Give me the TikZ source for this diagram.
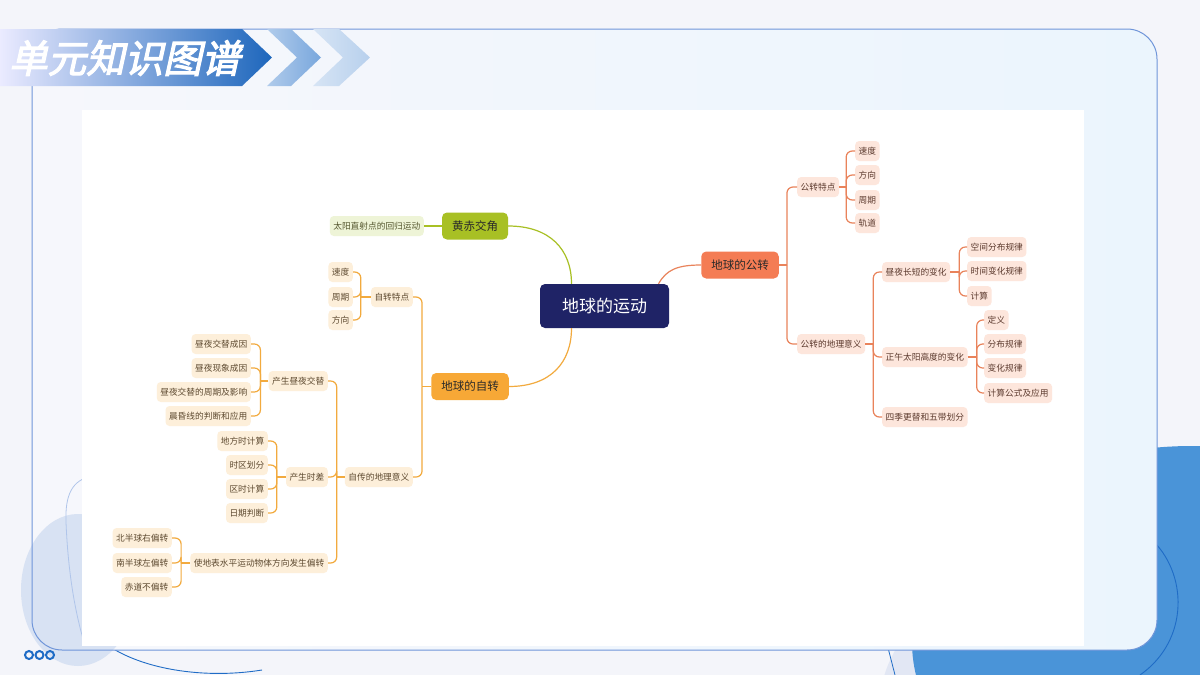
\documentclass[tikz,border=0pt]{standalone}
\usepackage{fontspec}
\newfontfamily\cjk{Noto Sans CJK SC}
\newfontfamily\cjktitle[FakeSlant=0.22,FakeBold=3]{Noto Sans CJK SC}
\usetikzlibrary{calc}
\definecolor{bgc}{HTML}{F4F5FA}
\definecolor{panelL}{HTML}{F6F7FC}
\definecolor{panelR}{HTML}{EBF5FD}
\definecolor{panelB}{HTML}{6F95D9}
\definecolor{blob}{HTML}{D8E2F3}
\definecolor{bigblue}{HTML}{4A94D8}
\definecolor{lavender}{HTML}{E2E7F4}
\definecolor{darkblue}{HTML}{1F6CC6}
\definecolor{navy}{HTML}{1F2366}
\definecolor{greenM}{HTML}{A8C024}
\definecolor{greenL}{HTML}{EEF4D7}
\definecolor{greenT}{HTML}{55572F}
\definecolor{orangeM}{HTML}{F7A836}
\definecolor{orangeLn}{HTML}{F2AA3E}
\definecolor{orangeL}{HTML}{FDEFDA}
\definecolor{orangeT}{HTML}{5E4A30}
\definecolor{coralM}{HTML}{F47C54}
\definecolor{coralLn}{HTML}{E9835B}
\definecolor{coralL}{HTML}{FDE6DC}
\definecolor{coralT}{HTML}{5C3A2E}
\definecolor{darkT}{HTML}{2A2A2A}
\tikzset{
  leaf/.style={rounded corners=4pt, inner xsep=3.5pt, inner ysep=0pt, minimum height=20pt,
    font=\cjk\fontsize{8.7}{10}\selectfont},
  leafO/.style={leaf, fill=orangeL, text=orangeT},
  leafR/.style={leaf, fill=coralL, text=coralT},
  leafG/.style={leaf, fill=greenL, text=greenT},
  branch/.style={rounded corners=5pt, minimum height=27pt, inner xsep=10pt, inner ysep=0pt,
    text=darkT, font=\cjk\fontsize{11.5}{13}\selectfont},
  lo/.style={draw=orangeLn, line width=1.2pt},
  lr/.style={draw=coralLn, line width=1.2pt},
  lg/.style={draw=greenM, line width=1.2pt},
  br/.style={rounded corners=6pt},
  chev/.style={line width=0pt}
}
\begin{document}
\begin{tikzpicture}[x=1pt,y=-1pt]
\useasboundingbox (0,0) rectangle (1200,675);
\fill[bgc] (0,0) rectangle (1200,675);
% bottom right decorations
\fill[lavender] (1150,705) ellipse [x radius=270, y radius=165];
\fill[bigblue] (1192,642) ellipse [x radius=280, y radius=196];
\draw[darkblue, line width=0.9pt] (1150,538) .. controls (1188,572) and (1190,640) .. (1140,675);
\draw[darkblue, line width=0.8pt] (886,640) -- (895,675);
\draw[darkblue, line width=0.9pt] (96,636) .. controls (130,668) and (200,680) .. (262,670);
% panel
\shade[left color=panelL, right color=panelR, rounded corners=30pt] (32,29) rectangle (1157,650);
\fill[blob] (78,590) ellipse [x radius=57, y radius=76];
\draw[panelB!55, line width=0.8pt] (92,476) .. controls (72,480) and (65,495) .. (66,522) .. controls (68,572) and (75,612) .. (84,642);
\fill[white] (82,110) rectangle (1084,646);
\draw[panelB, line width=1pt, rounded corners=30pt] (32,29) rectangle (1157,650);
% circles
\foreach \cx in {29,39.5,50} \draw[darkblue, line width=2pt] (\cx,655) circle (4);
% banner
\shade[left color=blue!8!white, right color=darkblue!95!black, chev] (0,29) -- (242,29) -- (272,57.5) -- (242,86) -- (0,86) -- cycle;
\shade[left color=darkblue!35!white, right color=darkblue!60!white, chev] (267,29) -- (291,29) -- (321,57.5) -- (291,86) -- (267,86) -- (297,57.5) -- cycle;
\shade[left color=darkblue!18!white, right color=darkblue!32!white, chev] (313,29) -- (339,29) -- (370,57.5) -- (339,86) -- (313,86) -- (343,57.5) -- cycle;
\node[text=white, font=\cjktitle\fontsize{38.5}{42}\selectfont, anchor=west, inner sep=0pt] (title) at (9,58) {单元知识图谱};

% ===== mind map =====
\node[fill=navy, text=white, rounded corners=5pt, minimum width=129pt, minimum height=44pt, inner sep=0pt,
  font=\cjk\fontsize{17}{20}\selectfont] (C) at (604.5,306) {地球的运动};
\node[branch, fill=greenM] (G) at (475,226) {黄赤交角};
\node[branch, fill=orangeM] (O) at (470,386.5) {地球的自转};
\node[branch, fill=coralM] (R) at (740,265) {地球的公转};

\draw[lg] (G.east) .. controls +(42,0) and +(0,-34) .. ([xshift=-33pt]C.north);
\draw[lo] (O.east) .. controls +(42,0) and +(0,34) .. ([xshift=-33pt]C.south);
\draw[lr] ([xshift=54pt]C.north) .. controls +(8,-14) and +(-24,0) .. (R.west);

% green
\node[leafG, anchor=east] (G1) at (424,226) {太阳直射点的回归运动};
\draw[lg] (G.west) -- (G1.east);

% orange (left) subtree
\node[leafO, anchor=east] (ZT) at (413,297) {自转特点};
\node[leafO, anchor=east] (ZY) at (413,477) {自传的地理意义};
\draw[lo] (O.west) -- ++(-9,0) coordinate (Oj);
\foreach \c in {ZT,ZY} \draw[lo,br] (Oj) |- (\c.east);

\node[leafO, anchor=east] (ZT1) at (353,272) {速度};
\node[leafO, anchor=east] (ZT2) at (353,297) {周期};
\node[leafO, anchor=east] (ZT3) at (353,320) {方向};
\draw[lo] (ZT.west) -- ++(-10,0) coordinate (ZTj);
\foreach \c in {ZT1,ZT2,ZT3} \draw[lo,br] (ZTj) |- (\c.east);

\node[leafO, anchor=east] (CZ) at (328,381) {产生昼夜交替};
\node[leafO, anchor=east] (SC) at (328,477) {产生时差};
\node[leafO, anchor=east] (PZ) at (328,563) {使地表水平运动物体方向发生偏转};
\draw[lo] (ZY.west) -- ++(-8,0) coordinate (ZYj);
\foreach \c in {CZ,SC,PZ} \draw[lo,br] (ZYj) |- (\c.east);

\node[leafO, anchor=east] (CZ1) at (251,344) {昼夜交替成因};
\node[leafO, anchor=east] (CZ2) at (251,368) {昼夜现象成因};
\node[leafO, anchor=east] (CZ3) at (251,392) {昼夜交替的周期及影响};
\node[leafO, anchor=east] (CZ4) at (251,416) {晨昏线的判断和应用};
\draw[lo] (CZ.west) -- ++(-8,0) coordinate (CZj);
\foreach \c in {CZ1,CZ2,CZ3,CZ4} \draw[lo,br] (CZj) |- (\c.east);

\node[leafO, anchor=east] (SC1) at (268,441) {地方时计算};
\node[leafO, anchor=east] (SC2) at (268,465) {时区划分};
\node[leafO, anchor=east] (SC3) at (268,489) {区时计算};
\node[leafO, anchor=east] (SC4) at (268,513) {日期判断};
\draw[lo] (SC.west) -- ++(-9,0) coordinate (SCj);
\foreach \c in {SC1,SC2,SC3,SC4} \draw[lo,br] (SCj) |- (\c.east);

\node[leafO, anchor=east] (PZ1) at (172,538) {北半球右偏转};
\node[leafO, anchor=east] (PZ2) at (172,563) {南半球左偏转};
\node[leafO, anchor=east] (PZ3) at (172,587) {赤道不偏转};
\draw[lo] (PZ.west) -- ++(-9,0) coordinate (PZj);
\foreach \c in {PZ1,PZ2,PZ3} \draw[lo,br] (PZj) |- (\c.east);

% coral (right) subtree
\node[leafR, anchor=west] (GT) at (797,187) {公转特点};
\node[leafR, anchor=west] (GY) at (797,344) {公转的地理意义};
\draw[lr] (R.east) -- ++(8,0) coordinate (Rj);
\foreach \c in {GT,GY} \draw[lr,br] (Rj) |- (\c.west);

\node[leafR, anchor=west] (GT1) at (855,151) {速度};
\node[leafR, anchor=west] (GT2) at (855,175) {方向};
\node[leafR, anchor=west] (GT3) at (855,200) {周期};
\node[leafR, anchor=west] (GT4) at (855,223) {轨道};
\draw[lr] (GT.east) -- ++(7,0) coordinate (GTj);
\foreach \c in {GT1,GT2,GT3,GT4} \draw[lr,br] (GTj) |- (\c.west);

\node[leafR, anchor=west] (ZD) at (882,272) {昼夜长短的变化};
\node[leafR, anchor=west] (ZW) at (882,357) {正午太阳高度的变化};
\node[leafR, anchor=west] (SJ) at (882,417) {四季更替和五带划分};
\draw[lr] (GY.east) -- ++(8,0) coordinate (GYj);
\foreach \c in {ZD,ZW,SJ} \draw[lr,br] (GYj) |- (\c.west);

\node[leafR, anchor=west] (ZD1) at (967,247) {空间分布规律};
\node[leafR, anchor=west] (ZD2) at (967,271) {时间变化规律};
\node[leafR, anchor=west] (ZD3) at (967,296) {计算};
\draw[lr] (ZD.east) -- ++(9,0) coordinate (ZDj);
\foreach \c in {ZD1,ZD2,ZD3} \draw[lr,br] (ZDj) |- (\c.west);

\node[leafR, anchor=west] (ZW1) at (984,320) {定义};
\node[leafR, anchor=west] (ZW2) at (984,344) {分布规律};
\node[leafR, anchor=west] (ZW3) at (984,368) {变化规律};
\node[leafR, anchor=west] (ZW4) at (984,393) {计算公式及应用};
\draw[lr] (ZW.east) -- ++(9,0) coordinate (ZWj);
\foreach \c in {ZW1,ZW2,ZW3,ZW4} \draw[lr,br] (ZWj) |- (\c.west);
\end{tikzpicture}
\end{document}
